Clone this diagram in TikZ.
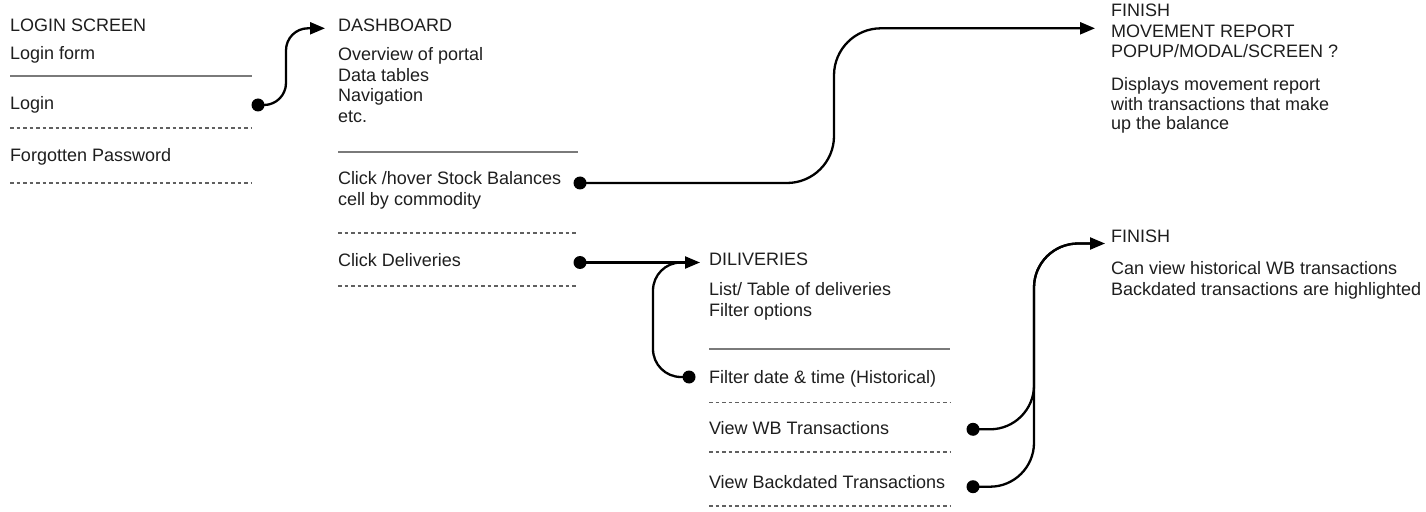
\documentclass[tikz,border=0pt]{standalone}
\usepackage{fontspec}
\setmainfont{Liberation Sans}
\usetikzlibrary{arrows.meta}
\definecolor{txtc}{HTML}{1E1E1E}
\definecolor{solidc}{HTML}{7A7A7A}
\definecolor{dashc}{HTML}{606060}
\tikzset{
  lbl/.style={anchor=base west, inner sep=0pt, outer sep=0pt, text=txtc,
    font=\fontsize{18bp}{20.5bp}\selectfont},
  solidsep/.style={draw=solidc, line width=2bp},
  dashsep/.style={draw=dashc, line width=1.5bp, dash pattern=on 3.5bp off 3bp},
  dotnode/.style={circle, fill=black, draw=none, minimum size=13bp, inner sep=0pt},
  conn/.style={draw=black, line width=2.3bp},
  arr/.style={conn, -{Triangle[length=15bp,width=12bp]}},
}
\begin{document}
\begin{tikzpicture}[x=1bp,y=-1bp]
\useasboundingbox (0,0) rectangle (1426,512);
% Login screen
\node[lbl] (lsTitle) at (10,31.7) {LOGIN SCREEN};
\node[lbl] (lsForm) at (10,60) {Login form};
\draw[solidsep] (10,76) -- (252,76);
\node[lbl] (lsLogin) at (10,110) {Login};
\draw[dashsep] (10,128) -- (252,128);
\node[lbl] (lsForgot) at (10,161.7) {Forgotten Password};
\draw[dashsep] (10,183) -- (252,183);
% Dashboard
\node[lbl] (dbTitle) at (338,32) {DASHBOARD};
\node[lbl] (dbL1) at (338,61) {Overview of portal};
\node[lbl] (dbL2) at (338,81.5) {Data tables};
\node[lbl] (dbL3) at (338,102) {Navigation};
\node[lbl] (dbL4) at (338,122.5) {etc.};
\draw[solidsep] (338,152) -- (578,152);
\node[lbl] (dbStock) at (338,185) {Click /hover Stock Balances};
\node[lbl] (dbStock2) at (338,205.5) {cell by commodity};
\draw[dashsep] (338,233) -- (578,233);
\node[lbl] (dbDel) at (338,266.7) {Click Deliveries};
\draw[dashsep] (338,286) -- (578,286);
% Deliveries
\node[lbl] (dvTitle) at (709,266) {DILIVERIES};
\node[lbl] (dvL1) at (709,295) {List/ Table of deliveries};
\node[lbl] (dvL2) at (709,316) {Filter options};
\draw[solidsep] (709,349) -- (950,349);
\node[lbl] (dvFilt) at (709,383.5) {Filter date \& time (Historical)};
\draw[dashsep] (709,402.5) -- (950,402.5);
\node[lbl] (dvWB) at (709,434.3) {View WB Transactions};
\draw[dashsep] (709,452) -- (950,452);
\node[lbl] (dvBack) at (709,488) {View Backdated Transactions};
\draw[dashsep] (709,506) -- (950,506);
% Finish 1
\node[lbl] (f1L1) at (1111,16.7) {FINISH};
\node[lbl] (f1L2) at (1111,37.3) {MOVEMENT REPORT};
\node[lbl] (f1L3) at (1111,57.7) {POPUP/MODAL/SCREEN ?};
\node[lbl] (f1L4) at (1111,90.7) {Displays movement report};
\node[lbl] (f1L5) at (1111,110.7) {with transactions that make};
\node[lbl] (f1L6) at (1111,130) {up the balance};
% Finish 2
\node[lbl] (f2L1) at (1111,243) {FINISH};
\node[lbl] (f2L2) at (1111,275) {Can view historical WB transactions};
\node[lbl] (f2L3) at (1111,295) {Backdated transactions are highlighted};
% dots
\node[dotnode] (dLogin) at (258,105) {};
\node[dotnode] (dStock) at (580,183) {};
\node[dotnode] (dDel) at (580,262.5) {};
\node[dotnode] (dFilt) at (689,377) {};
\node[dotnode] (dWB) at (973,429.3) {};
\node[dotnode] (dBack) at (973,486.7) {};
% arrow targets
\coordinate (aDashK) at (286,28.3);
\coordinate (aDash) at (325,28.3);
\coordinate (aMoveK) at (834,28.3);
\coordinate (aMove) at (1095,28.3);
\coordinate (aDil) at (700,262.5);
\coordinate (aDilK) at (653,262.5);
\coordinate (aDilB) at (688,262.5);
\coordinate (aFinK) at (1034,243.5);
\coordinate (aFin) at (1105,243.5);
% connectors
\draw[arr, rounded corners=22bp] (dLogin.center) -| (aDashK) -- (aDash);
\draw[arr, rounded corners=47bp] (dStock.center) -| (aMoveK) -- (aMove);
\draw[arr] (dDel.center) -- (aDil);
\draw[conn, rounded corners=28bp] (dFilt.center) -| (aDilK) -- (aDilB);
\draw[conn, rounded corners=44bp] (dBack.center) -| (aFinK) -- ([xshift=-12bp]aFin);
\draw[arr, rounded corners=44bp] (dWB.center) -| (aFinK) -- (aFin);
\end{tikzpicture}
\end{document}
